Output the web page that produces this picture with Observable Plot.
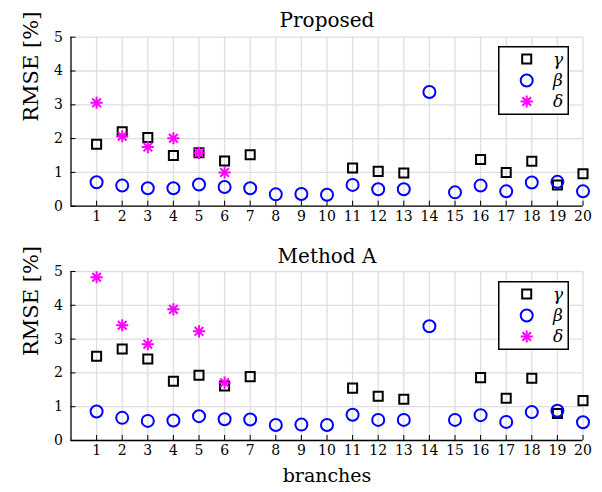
<!DOCTYPE html>
<html>
<head>
<meta charset="utf-8">
<script src="https://cdn.jsdelivr.net/npm/d3@7"></script>
<script src="https://cdn.jsdelivr.net/npm/@observablehq/plot@0.6"></script>
<style>
  body { margin: 0; background: #fff; }
  #chart { position: relative; width: 602px; height: 492px; font-family: "DejaVu Serif", serif; }
  #chart > svg { display: block; }
  .legend { position: absolute; }
</style>
</head>
<body>
<div id="chart"></div>
<script>
// Branch indices on the x axis and RMSE tick values on the y axis
const branches = [1, 2, 3, 4, 5, 6, 7, 8, 9, 10, 11, 12, 13, 14, 15, 16, 17, 18, 19, 20];
const rmseTicks = [0, 1, 2, 3, 4, 5];

// RMSE [%] per branch, proposed estimator (null = not estimated)
const proposedGamma = [1.83, 2.20, 2.03, 1.50, 1.58, 1.34, 1.52, null, null, null, 1.13, 1.03, 0.98, null, null, 1.38, 1.00, 1.33, 0.63, 0.96];
const proposedBeta  = [0.71, 0.61, 0.53, 0.53, 0.64, 0.57, 0.53, 0.35, 0.36, 0.34, 0.63, 0.50, 0.50, 3.38, 0.41, 0.61, 0.44, 0.70, 0.72, 0.44];
const proposedDelta = [3.06, 2.07, 1.75, 2.01, 1.58, 1.00];

// RMSE [%] per branch, Method A
const methodAGamma = [2.49, 2.71, 2.41, 1.75, 1.93, 1.61, 1.89, null, null, null, 1.55, 1.31, 1.22, null, null, 1.86, 1.25, 1.84, 0.80, 1.18];
const methodABeta  = [0.86, 0.67, 0.58, 0.59, 0.72, 0.63, 0.62, 0.46, 0.47, 0.46, 0.76, 0.61, 0.61, 3.38, 0.61, 0.75, 0.55, 0.84, 0.88, 0.54];
const methodADelta = [4.83, 3.41, 2.85, 3.88, 3.23, 1.71];

// Series names and styles
const seriesNames = ["γ", "β", "δ"];
const seriesColors = ["#000000", "#0000ff", "#ff00ff"];

const toRows = (values) => values.map((v, i) => ({branch: branches[i], value: v}));

function panel({title, gamma, beta, delta, height, marginTop, marginBottom, titleDy, xLabel}) {
  const gridStyle = {stroke: "#dedede", strokeOpacity: 1, strokeWidth: 1.3};
  const asterisk = {x: "branch", y: "value", stroke: seriesColors[2], strokeWidth: 2, r: 4};
  return Plot.plot({
    width: 602,
    height,
    marginLeft: 70.5,
    marginRight: 19.5,
    marginTop,
    marginBottom,
    style: {fontFamily: "'DejaVu Serif', serif", fontSize: "14px", color: "#000", background: "#fff", overflow: "visible"},
    x: {domain: [0, 20]},
    y: {domain: [0, 5]},
    marks: [
      Plot.gridX(branches, gridStyle),
      Plot.gridY(rmseTicks, gridStyle),
      Plot.ruleX([0], {stroke: "#000", strokeWidth: 1.3}),
      Plot.ruleY([0], {stroke: "#000", strokeWidth: 1.3}),
      Plot.axisX(branches, {tickSize: -5, tickPadding: 10, label: null, tickFormat: (d) => String(d)}),
      Plot.axisY(rmseTicks, {tickSize: -5, tickPadding: 13, label: null, tickFormat: (d) => String(d)}),
      Plot.dot(toRows(gamma), {x: "branch", y: "value", symbol: "square", r: 5.1, stroke: seriesColors[0], strokeWidth: 2, fill: "none"}),
      Plot.dot(toRows(beta), {x: "branch", y: "value", symbol: "circle", r: 6, stroke: seriesColors[1], strokeWidth: 2, fill: "none"}),
      Plot.dot(toRows(delta), {...asterisk, symbol: "plus"}),
      Plot.dot(toRows(delta), {...asterisk, symbol: "times"}),
      Plot.text([title], {text: (d) => d, frameAnchor: "top", dy: titleDy, fontSize: 20, lineAnchor: "middle"}),
      Plot.text(["RMSE [%]"], {text: (d) => d, frameAnchor: "left", rotate: -90, dx: -40, fontSize: 21, lineAnchor: "middle"}),
      xLabel ? Plot.text([xLabel], {text: (d) => d, frameAnchor: "bottom", dy: 35, fontSize: 19, lineAnchor: "middle"}) : null
    ]
  });
}

// Legend box with the three marker styles
function legend(left, top) {
  const w = 71, h = 69;
  const svg = d3.create("svg").attr("class", "legend").attr("width", w).attr("height", h)
    .style("left", left + "px").style("top", top + "px");
  svg.append("rect").attr("x", 0.75).attr("y", 0.75).attr("width", w - 1.5).attr("height", h - 1.5)
    .attr("fill", "#fff").attr("stroke", "#000").attr("stroke-width", 1.5);
  const rowY = [13, 34.5, 55.5];
  const sym = (type, r) => d3.symbol(type, Math.PI * r * r)();
  const g = svg.append("g");
  g.append("path").attr("transform", `translate(28.7,${rowY[0]})`).attr("d", sym(d3.symbolSquare, 5.1))
    .attr("fill", "none").attr("stroke", seriesColors[0]).attr("stroke-width", 2);
  g.append("path").attr("transform", `translate(28.7,${rowY[1]})`).attr("d", sym(d3.symbolCircle, 6))
    .attr("fill", "none").attr("stroke", seriesColors[1]).attr("stroke-width", 2);
  for (const t of [d3.symbolPlus, d3.symbolTimes]) {
    g.append("path").attr("transform", `translate(28.7,${rowY[2]})`).attr("d", sym(t, 4))
      .attr("fill", "none").attr("stroke", seriesColors[2]).attr("stroke-width", 2);
  }
  seriesNames.forEach((name, i) => {
    svg.append("text").attr("x", 60).attr("y", rowY[i]).attr("dy", "0.35em")
      .attr("text-anchor", "middle").attr("font-style", "italic")
      .attr("font-family", "'DejaVu Serif', serif").attr("font-size", 17).text(name);
  });
  return svg.node();
}

const chart = document.getElementById("chart");
chart.append(panel({
  title: "Proposed", gamma: proposedGamma, beta: proposedBeta, delta: proposedDelta,
  height: 235, marginTop: 36.7, marginBottom: 29.3, titleDy: -17
}));
chart.append(panel({
  title: "Method A", gamma: methodAGamma, beta: methodABeta, delta: methodADelta,
  height: 257, marginTop: 36, marginBottom: 52, titleDy: -14.5, xLabel: "branches"
}));
chart.append(legend(498, 46));
chart.append(legend(498, 281));
</script>
</body>
</html>
